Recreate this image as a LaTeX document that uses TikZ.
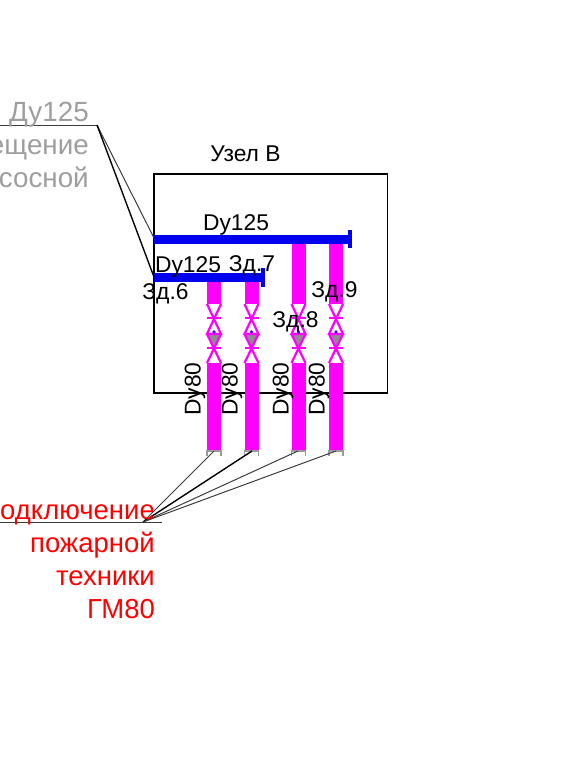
\documentclass[tikz,border=0pt]{standalone}
\usepackage{fontspec}
\setmainfont{Liberation Sans}
\definecolor{pipeblue}{RGB}{0,0,240}
\definecolor{pipemag}{RGB}{255,0,255}
\definecolor{lead}{RGB}{60,60,60}
\tikzset{
  lbl/.style={inner sep=0pt,anchor=base,font=\fontsize{22.8}{27}\selectfont,text=black},
  rotlbl/.style={inner sep=0pt,anchor=center,rotate=90,font=\fontsize{22.8}{27}\selectfont,text=black},
  greylbl/.style={inner sep=0pt,anchor=base east,font=\fontsize{27.8}{33}\selectfont,text=black!38},
  redlbl/.style={inner sep=0pt,anchor=base east,font=\fontsize{27.5}{33}\selectfont,text=red},
  thinlead/.style={draw=lead,line width=1pt},
  thicklead/.style={draw=black,line width=1.4pt},
  valveline/.style={draw=pipemag,line width=2.2pt},
}
\newcommand{\pipecol}[2]{%
  \fill[pipemag] (#1-7,#2) rectangle (#1+7,304);
  \fill[pipemag] (#1-7,363) rectangle (#1+7,451);
  \fill[black!45] (#1-6,335) -- (#1+6,335) -- (#1,348) -- cycle;
  \draw[valveline] (#1-7,304) -- (#1+7,334) -- (#1-7,334) -- (#1+7,304);
  \draw[valveline] (#1-7,318) -- (#1+7,318);
  \draw[valveline] (#1-7,334) -- (#1+7,363) (#1+7,334) -- (#1-7,363);
  \draw[valveline] (#1-7,348) -- (#1+7,348);
  \fill[pipeblue!70!pipemag] (#1,332) circle (1.8);
  \draw[draw=black!40,line width=1.4pt] (#1-7,456) -- (#1-7,451) -- (#1+7,451) -- (#1+7,456);
}
\begin{document}
\begin{tikzpicture}[x=1pt,y=-1pt]
\useasboundingbox (0,0) rectangle (573,764);
% box
\node[draw=black,line width=1.5pt,outer sep=0pt,minimum width=233.5pt,minimum height=219pt,inner sep=0pt,anchor=north west] (box) at (154,174) {};
% pipes
\pipecol{214}{282}
\pipecol{251.5}{282}
\pipecol{298.5}{243}
\pipecol{336}{243}
% blue mains
\fill[pipeblue] (154,234.5) rectangle (348,243.5);
\fill[pipeblue] (348,230) rectangle (351.5,248);
\fill[pipeblue] (154,272.5) rectangle (261,282);
\fill[pipeblue] (261,268) rectangle (264.5,287);
% leaders
\coordinate (gk) at (97,125);
\coordinate (gs) at (0,125);
\coordinate (m1) at (154,238);
\coordinate (m2) at (154,277);
\coordinate (rk) at (143,522);
\coordinate (rs) at (0,522);
\coordinate (re) at (162,522);
\coordinate (p1) at (214,451);
\coordinate (p2) at (252,451);
\coordinate (p3) at (298,451);
\coordinate (p4) at (336,451);
\draw[thinlead] (gs) -- (gk);
\draw[thinlead] (gk) -- (m1);
\draw[thicklead] (gk) -- (m2);
\draw[thinlead] (rs) -- (re);
\draw[thinlead] (rk) -- (p1);
\draw[thicklead] (rk) -- (p2);
\draw[thinlead] (rk) -- (p3);
\draw[thinlead] (rk) -- (p4);
% labels
\node[lbl] (uzel) at (245.5,161) {Узел В};
\node[lbl] (d1) at (236,230) {Dy125};
\node[lbl] (d2) at (188,272.5) {Dy125};
\node[lbl] (z6) at (165.5,299) {Зд.6};
\node[lbl] (z7) at (252,271) {Зд.7};
\node[lbl] (z8) at (295.5,327) {Зд.8};
\node[lbl] (z9) at (334.5,297) {Зд.9};
\node[rotlbl] (r1) at (195,389) {Dy80};
\node[rotlbl] (r2) at (232,389) {Dy80};
\node[rotlbl] (r3) at (283,389) {Dy80};
\node[rotlbl] (r4) at (319,389) {Dy80};
\node[greylbl] (g1) at (89,121) {Ду125};
\node[greylbl] (g2) at (89,154) {помещение};
\node[greylbl] (g3) at (89,187) {насосной};
\node[redlbl] (t1) at (155,519) {подключение};
\node[redlbl] (t2) at (155,552) {пожарной};
\node[redlbl] (t3) at (155,585) {техники};
\node[redlbl] (t4) at (155,618) {ГМ80};
\end{tikzpicture}
\end{document}
